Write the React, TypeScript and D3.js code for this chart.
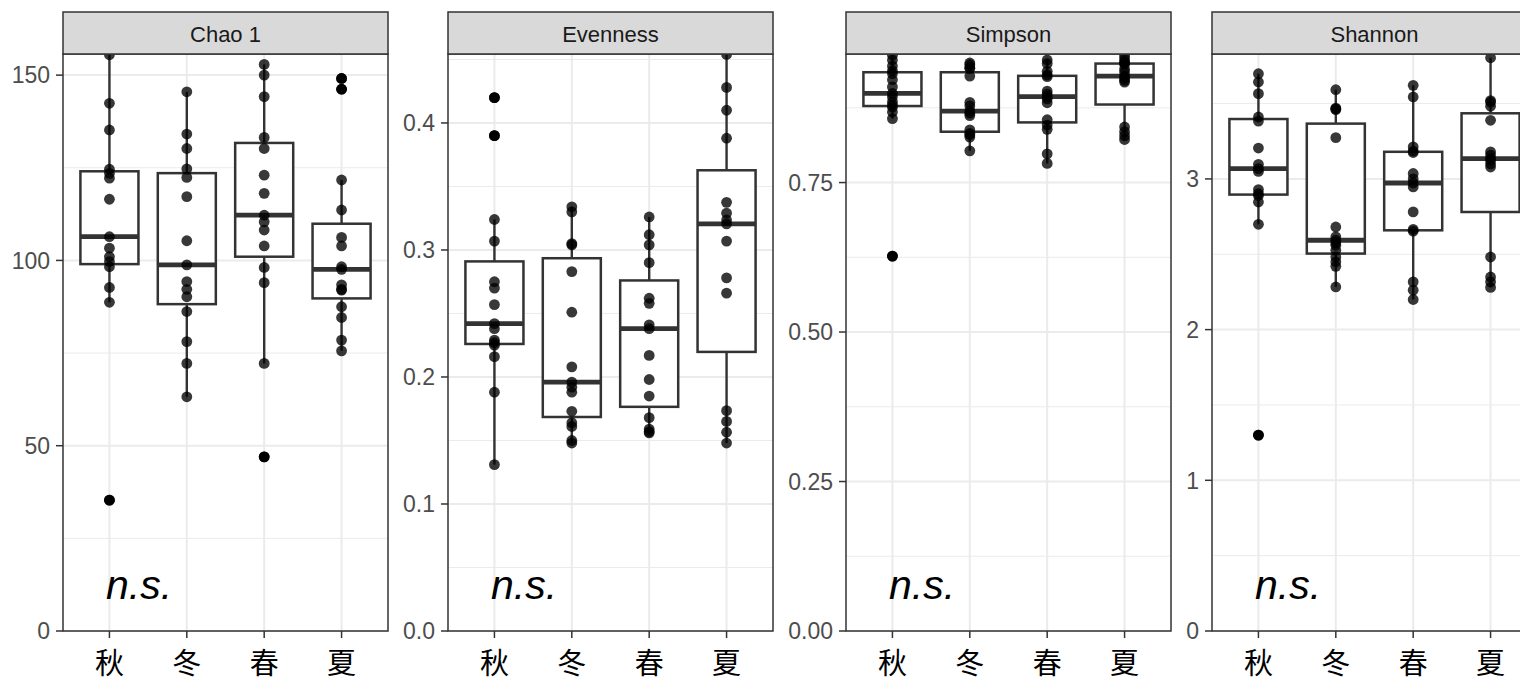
import * as d3 from 'd3';

const seasons = ['秋', '冬', '春', '夏'];
const metrics = ['Chao 1', 'Evenness', 'Simpson', 'Shannon'];

// one row of 15 samples per season, in the order of `seasons`
const chao1 = [
  [155.5, 142.4, 135.2, 124.6, 123.5, 122.2, 116.5, 106.4, 103.3, 101.0, 99.7, 98.3, 92.7, 88.7, 35.3],
  [145.5, 134.1, 130.2, 124.7, 122.4, 117.2, 105.3, 98.8, 94.3, 92.2, 90.2, 86.2, 78.1, 72.2, 63.2],
  [152.9, 150.0, 144.2, 133.2, 130.2, 123.0, 118.1, 112.2, 110.4, 108.2, 103.9, 98.1, 94.0, 72.2, 47.0],
  [149.1, 146.2, 121.7, 113.6, 106.2, 103.9, 98.3, 97.6, 93.4, 92.2, 92.0, 87.5, 84.6, 78.5, 75.6],
];
const evenness = [
  [0.42, 0.39, 0.324, 0.307, 0.275, 0.27, 0.257, 0.242, 0.238, 0.229, 0.227, 0.225, 0.216, 0.188, 0.131],
  [0.334, 0.33, 0.305, 0.304, 0.283, 0.251, 0.208, 0.196, 0.192, 0.188, 0.173, 0.164, 0.161, 0.15, 0.148],
  [0.326, 0.312, 0.304, 0.29, 0.262, 0.258, 0.241, 0.238, 0.217, 0.198, 0.185, 0.168, 0.159, 0.157, 0.156],
  [0.454, 0.428, 0.41, 0.388, 0.3375, 0.329, 0.3236, 0.3205, 0.307, 0.278, 0.266, 0.1735, 0.165, 0.1565, 0.148],
];
const simpson = [
  [0.963, 0.955, 0.945, 0.937, 0.932, 0.922, 0.91, 0.899, 0.893, 0.885, 0.88, 0.876, 0.868, 0.857, 0.627],
  [0.95, 0.947, 0.942, 0.941, 0.928, 0.884, 0.878, 0.8696, 0.866, 0.862, 0.838, 0.832, 0.83, 0.826, 0.803],
  [0.955, 0.949, 0.936, 0.93, 0.927, 0.903, 0.898, 0.8936, 0.89, 0.8835, 0.855, 0.8462, 0.839, 0.798, 0.782],
  [0.962, 0.957, 0.952, 0.95, 0.948, 0.94, 0.935, 0.928, 0.925, 0.921, 0.918, 0.843, 0.835, 0.828, 0.822],
];
const shannon = [
  [3.698, 3.643, 3.566, 3.411, 3.384, 3.205, 3.097, 3.068, 3.05, 2.929, 2.902, 2.89, 2.847, 2.699, 1.3],
  [3.592, 3.47, 3.465, 3.46, 3.274, 2.681, 2.615, 2.593, 2.575, 2.56, 2.527, 2.482, 2.45, 2.42, 2.283],
  [3.621, 3.544, 3.213, 3.185, 3.175, 3.036, 3.0, 2.973, 2.947, 2.781, 2.665, 2.653, 2.317, 2.262, 2.2],
  [3.804, 3.52, 3.51, 3.482, 3.389, 3.18, 3.158, 3.135, 3.125, 3.1, 3.079, 2.482, 2.349, 2.317, 2.28],
];

const yTop = [155.7, 0.4543, 0.965, 3.829];
const majorTicks = [[0, 50, 100, 150], [0, 0.1, 0.2, 0.3, 0.4], [0, 0.25, 0.5, 0.75], [0, 1, 2, 3]];
const tickLabels = [['0', '50', '100', '150'], ['0.0', '0.1', '0.2', '0.3', '0.4'], ['0.00', '0.25', '0.50', '0.75'], ['0', '1', '2', '3']];
const minorTicks = [[25, 75, 125], [0.05, 0.15, 0.25, 0.35, 0.45], [0.125, 0.375, 0.625, 0.875], [0.5, 1.5, 2.5, 3.5]];
const annotation = 'n.s.';

const allData = [chao1, evenness, simpson, shannon];

const W = 1520;
const H = 683;
const panelLefts = [63, 448, 846, 1212];
const panelW = 325;
const top = 54;
const bottom = 631;
const stripTop = 12;
const sans = '"Liberation Sans", Arial, sans-serif';
const cjk = '"Noto Sans CJK SC", "Noto Sans CJK JP", sans-serif';
const dark = '#333333';

function boxStats(values: number[]) {
  const s = [...values].sort(d3.ascending);
  const q1 = d3.quantile(s, 0.25)!;
  const med = d3.quantile(s, 0.5)!;
  const q3 = d3.quantile(s, 0.75)!;
  const iqr = q3 - q1;
  const inside = s.filter(v => v >= q1 - 1.5 * iqr && v <= q3 + 1.5 * iqr);
  const outliers = s.filter(v => v < q1 - 1.5 * iqr || v > q3 + 1.5 * iqr);
  return { q1, med, q3, lo: d3.min(inside)!, hi: d3.max(inside)!, outliers };
}

function Panel({ idx }: { idx: number }) {
  const left = panelLefts[idx];
  const x = d3.scalePoint<string>().domain(seasons).range([left, left + panelW]).padding(0.6);
  const y = d3.scaleLinear().domain([0, yTop[idx]]).range([bottom, top]);
  const bw = x.step() * 0.75;
  const clipId = `clip-${idx}`;
  const data = allData[idx];

  return (
    <g>
      <defs>
        <clipPath id={clipId}>
          <rect x={left} y={top} width={panelW} height={bottom - top} />
        </clipPath>
      </defs>
      <rect x={left} y={top} width={panelW} height={bottom - top} fill="#ffffff" />
      {minorTicks[idx].map(t => (
        <line key={'mi' + t} x1={left} x2={left + panelW} y1={y(t)} y2={y(t)} stroke="#EBEBEB" strokeWidth={1} />
      ))}
      {majorTicks[idx].map(t => (
        <line key={'ma' + t} x1={left} x2={left + panelW} y1={y(t)} y2={y(t)} stroke="#EBEBEB" strokeWidth={2} />
      ))}
      {seasons.map(s => (
        <line key={'v' + s} x1={x(s)} x2={x(s)} y1={top} y2={bottom} stroke="#EBEBEB" strokeWidth={2} />
      ))}
      <g clipPath={`url(#${clipId})`}>
        {seasons.map((s, i) => {
          const st = boxStats(data[i]);
          const cx = x(s)!;
          return (
            <g key={'b' + s}>
              <line x1={cx} x2={cx} y1={y(st.q3)} y2={y(st.hi)} stroke={dark} strokeWidth={2.4} />
              <line x1={cx} x2={cx} y1={y(st.q1)} y2={y(st.lo)} stroke={dark} strokeWidth={2.4} />
              <rect x={cx - bw / 2} y={y(st.q3)} width={bw} height={y(st.q1) - y(st.q3)}
                fill="#ffffff" stroke={dark} strokeWidth={2.5} />
              <line x1={cx - bw / 2} x2={cx + bw / 2} y1={y(st.med)} y2={y(st.med)} stroke={dark} strokeWidth={4.8} />
              {st.outliers.map((v, k) => (
                <circle key={'o' + k} cx={cx} cy={y(v)} r={5.4} fill="#000000" />
              ))}
            </g>
          );
        })}
        {seasons.map((s, i) =>
          data[i].map((v, k) => (
            <circle key={'p' + s + k} cx={x(s)} cy={y(v)} r={5.4} fill="#000000" fillOpacity={0.78} />
          ))
        )}
      </g>
      <rect x={left} y={top} width={panelW} height={bottom - top} fill="none" stroke={dark} strokeWidth={1.5} />
      <rect x={left} y={stripTop} width={panelW} height={top - stripTop} fill="#D9D9D9" stroke={dark} strokeWidth={1.5} />
      <text x={left + panelW / 2} y={41.5} textAnchor="middle" fontFamily={sans} fontSize={22} fill="#1A1A1A">
        {metrics[idx]}
      </text>
      {majorTicks[idx].map((t, k) => (
        <g key={'yt' + t}>
          <line x1={left - 7} x2={left} y1={y(t)} y2={y(t)} stroke={dark} strokeWidth={1.5} />
          <text x={left - 13} y={y(t)} dy="0.36em" textAnchor="end" fontFamily={sans} fontSize={23} fill="#4D4D4D">
            {tickLabels[idx][k]}
          </text>
        </g>
      ))}
      {seasons.map(s => (
        <g key={'xt' + s}>
          <line x1={x(s)} x2={x(s)} y1={bottom} y2={bottom + 7} stroke={dark} strokeWidth={1.5} />
          <text x={x(s)} y={674} textAnchor="middle" fontFamily={cjk} fontSize={29} fill="#000000">
            {s}
          </text>
        </g>
      ))}
      <text x={left + 43} y={599} fontFamily={sans} fontStyle="italic" fontSize={41} fill="#000000">
        {annotation}
      </text>
    </g>
  );
}

export default function App() {
  return (
    <svg width={W} height={H} style={{ position: 'absolute', left: 0, top: 0, background: '#ffffff' }}>
      <rect width={W} height={H} fill="#ffffff" />
      {metrics.map((m, i) => (
        <Panel key={m} idx={i} />
      ))}
    </svg>
  );
}
